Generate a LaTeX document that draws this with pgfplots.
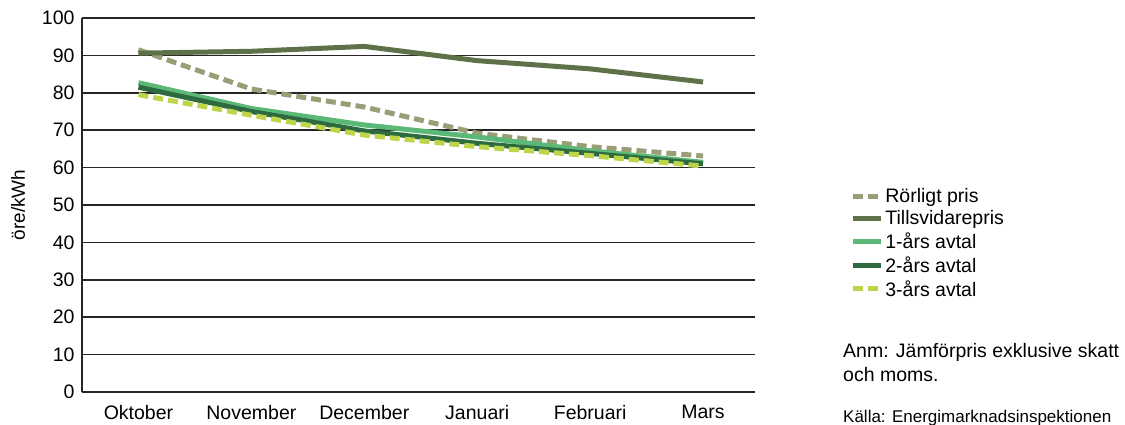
\documentclass[border=0pt]{standalone}
\usepackage{pgfplots}
\pgfplotsset{compat=1.18}
\usepackage{fontspec}
\setmainfont{Liberation Sans}
\definecolor{rorl}{HTML}{9B9D77}
\definecolor{tills}{HTML}{5F7149}
\definecolor{ett}{HTML}{5BB978}
\definecolor{tva}{HTML}{2D6A40}
\definecolor{tre}{HTML}{BDD54B}
\begin{document}
\begin{tikzpicture}[x=1pt,y=1pt]
\useasboundingbox (0,0) rectangle (1125,424);
\begin{axis}[at={(82pt,32pt)}, anchor=south west, scale only axis,
  width=673pt, height=374pt,
  xmin=-0.5, xmax=5.46, ymin=0, ymax=100,
  xtick={0,1,2,3,4,5},
  xticklabels={Oktober,November,December,Januari,Februari,Mars},
  ytick={0,10,...,100},
  ymajorgrids, grid style={black!85, line width=1.5pt},
  major tick length=0pt,
  axis x line=bottom, axis y line=left,
  axis line style={-, black!85, line width=1.6pt},
  tick label style={font=\fontsize{19.5}{22}\selectfont},
  /pgf/number format/assume math mode=true,
  xticklabel style={yshift=-10pt},
  yticklabel style={xshift=-4pt},
  ylabel={öre/kWh},
  ylabel style={at={(axis description cs:-0.095,0.5)}, anchor=center, font=\fontsize{19}{21}\selectfont},
  legend style={at={(axis description cs:1.137,0.555)}, anchor=north west, draw=none, fill=none,
    font=\fontsize{19.5}{22}\selectfont, row sep=2.5pt},
  legend cell align=left,
  legend image code/.code={\draw[#1] (0pt,0pt) -- (28pt,0pt);},
  clip=false,
]
\addplot[rorl, line width=5pt, dash pattern=on 10pt off 5pt] coordinates {(0,91.5) (1,81) (2,76.2) (3,69.2) (4,65.6) (5,63.1)};
\addlegendentry{Rörligt pris}
\addplot[tills, line width=5pt] coordinates {(0,90.6) (1,91.1) (2,92.4) (3,88.6) (4,86.4) (5,82.9)};
\addlegendentry{Tillsvidarepris}
\addplot[ett, line width=5pt] coordinates {(0,82.7) (1,75.8) (2,71.4) (3,68.2) (4,64.5) (5,61.4)};
\addlegendentry{1-års avtal}
\addplot[tva, line width=5pt] coordinates {(0,81.5) (1,75) (2,69.8) (3,66.5) (4,63.8) (5,61)};
\addlegendentry{2-års avtal}
\addplot[tre, line width=5pt, dash pattern=on 10pt off 5pt] coordinates {(0,79.5) (1,74) (2,68.7) (3,65.6) (4,63.2) (5,60.4)};
\addlegendentry{3-års avtal}
\end{axis}
\node[anchor=west, font=\fontsize{19.5}{22}\selectfont, inner sep=0pt] at (843,72) {Anm: Jämförpris exklusive skatt};
\node[anchor=west, font=\fontsize{19.5}{22}\selectfont, inner sep=0pt] at (843,49) {och moms.};
\node[anchor=west, font=\fontsize{17}{19}\selectfont, inner sep=0pt] at (843,6) {Källa: Energimarknadsinspektionen};
\end{tikzpicture}
\end{document}
